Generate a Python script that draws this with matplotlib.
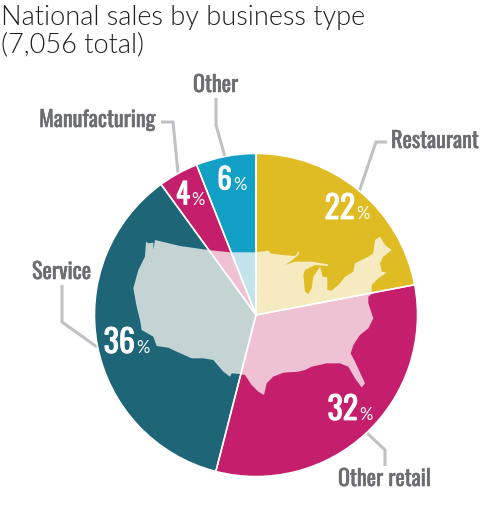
import matplotlib
matplotlib.use('Agg')
import matplotlib.pyplot as plt
import matplotlib.patheffects as pe
from matplotlib.patches import Polygon

# clockwise from 12 o'clock
categories = ['Restaurant', 'Other retail', 'Service', 'Manufacturing', 'Other']
shares = [22, 32, 36, 4, 6]
colors = ['#dfbc24', '#c41e6d', '#1e6677', '#c41e6d', '#12a0c6']
title_lines = ['National sales by business type', '(7,056 total)']

W, H = 500, 508
CENTER = (256, 315)
RADIUS = 161.5
LABEL_COLOR = '#6d6e71'
LINE_COLOR = '#c0c1c5'
NARROW = ['Oswald', 'Fjalla One', 'Barlow Condensed', 'Roboto', 'DejaVu Sans']
LIGHT = ['Lato', 'DejaVu Sans']


def flip(py):
    return H - py


# silhouette of the lower 48, traced in reference pixels
east_zoom = [(45, 97), (85, 92), (92, 100), (125, 105), (165, 108), (178, 92), (175, 105), (155, 122),
             (135, 135), (165, 125), (190, 125), (215, 125), (265, 133), (262, 138), (225, 135), (195, 150),
             (190, 165), (195, 215), (205, 222), (215, 205), (220, 170), (240, 140), (248, 170), (262, 172),
             (262, 210), (275, 212), (300, 190), (315, 170), (340, 155), (345, 130), (385, 110), (400, 100),
             (405, 60), (420, 50), (435, 75), (455, 90), (430, 110), (420, 130), (425, 155), (440, 158),
             (415, 175), (395, 195), (395, 222), (385, 230), (385, 250), (400, 295), (385, 325), (360, 345),
             (340, 375), (332, 400), (345, 425), (375, 490), (365, 502), (345, 475), (325, 440), (300, 430),
             (260, 430), (215, 440), (195, 450), (175, 455), (130, 458), (100, 470), (80, 490), (72, 525),
             (55, 515), (35, 495), (15, 465), (0, 462)]
west_zoom = [(360, 462), (335, 460), (330, 470), (310, 455), (280, 420), (250, 415), (215, 415), (170, 395),
             (145, 383), (110, 378), (100, 350), (65, 330), (60, 300), (50, 260), (40, 205), (55, 150),
             (75, 110), (78, 65), (85, 70), (100, 68), (100, 90), (105, 60), (180, 78), (265, 90), (330, 97)]
us_outline = [(240 + x / 3, 220 + y / 3) for x, y in east_zoom] + [(120 + x / 3, 220 + y / 3) for x, y in west_zoom]

leaders = [
    [(359, 192), (376, 142), (387, 142)],
    [(367, 433), (385, 450), (385, 466)],
    [(62, 285), (62, 322), (97, 347)],
    [(161, 122), (173, 122), (178, 173)],
    [(216, 98), (216, 125), (225, 157)],
]
label_pos = [(391, 141, 'left'), (338, 479, 'left'), (32, 272, 'left'), (156, 120, 'right'), (193, 85, 'left')]
pct_pos = [(355, 209, 23), (358, 410, 23), (135, 343, 23), (190, 195, 21), (232, 180, 21)]

fig = plt.figure(figsize=(W / 100, H / 100), dpi=100)
ax = fig.add_axes([0, 0, 1, 1])

pie_kw = dict(startangle=90, counterclock=False, radius=RADIUS, center=(CENTER[0], flip(CENTER[1])), frame=True)
ax.pie(shares, colors=colors, wedgeprops=dict(linewidth=0), **pie_kw)
ax.add_patch(Polygon([(x, flip(y)) for x, y in us_outline], closed=True, facecolor='#fdfaf6', edgecolor='none',
                     alpha=0.75, zorder=3))
wedges, _ = ax.pie(shares, colors=['none'] * len(shares), wedgeprops=dict(edgecolor='white', linewidth=1.1), **pie_kw)
for w in wedges:
    w.set_zorder(4)

for pts in leaders:
    ax.plot([p[0] for p in pts], [flip(p[1]) for p in pts], color=LINE_COLOR, lw=2.2, solid_joinstyle='miter',
            solid_capstyle='butt', zorder=1)

for name, (x, y, ha) in zip(categories, label_pos):
    t = ax.text(x, flip(y), name, family=NARROW, fontsize=16, color=LABEL_COLOR, ha=ha, va='center', zorder=6)
    t.set_path_effects([pe.withStroke(linewidth=0.4, foreground=LABEL_COLOR)])

for val, (x, y, size) in zip(shares, pct_pos):
    t = ax.text(x, flip(y), str(val), family=NARROW, fontsize=size, color='white', ha='right', va='center', zorder=6)
    t.set_path_effects([pe.withStroke(linewidth=0.6, foreground='white')])
    ax.text(x + 1.5, flip(y + 5), '%', family=LIGHT, fontsize=12, color='white', ha='left', va='center', zorder=6)

ax.text(1, flip(25), title_lines[0], family=LIGHT, fontweight=300, fontsize=19.5,
        color='#231f20', ha='left', va='baseline')
ax.text(1, flip(52), title_lines[1], family=LIGHT, fontweight=300, fontsize=19.5,
        color='#231f20', ha='left', va='baseline')

ax.set_xlim(0, W)
ax.set_ylim(0, H)
ax.set_aspect('auto')
ax.axis('off')
fig.savefig('out.png', dpi=100, facecolor='white')
